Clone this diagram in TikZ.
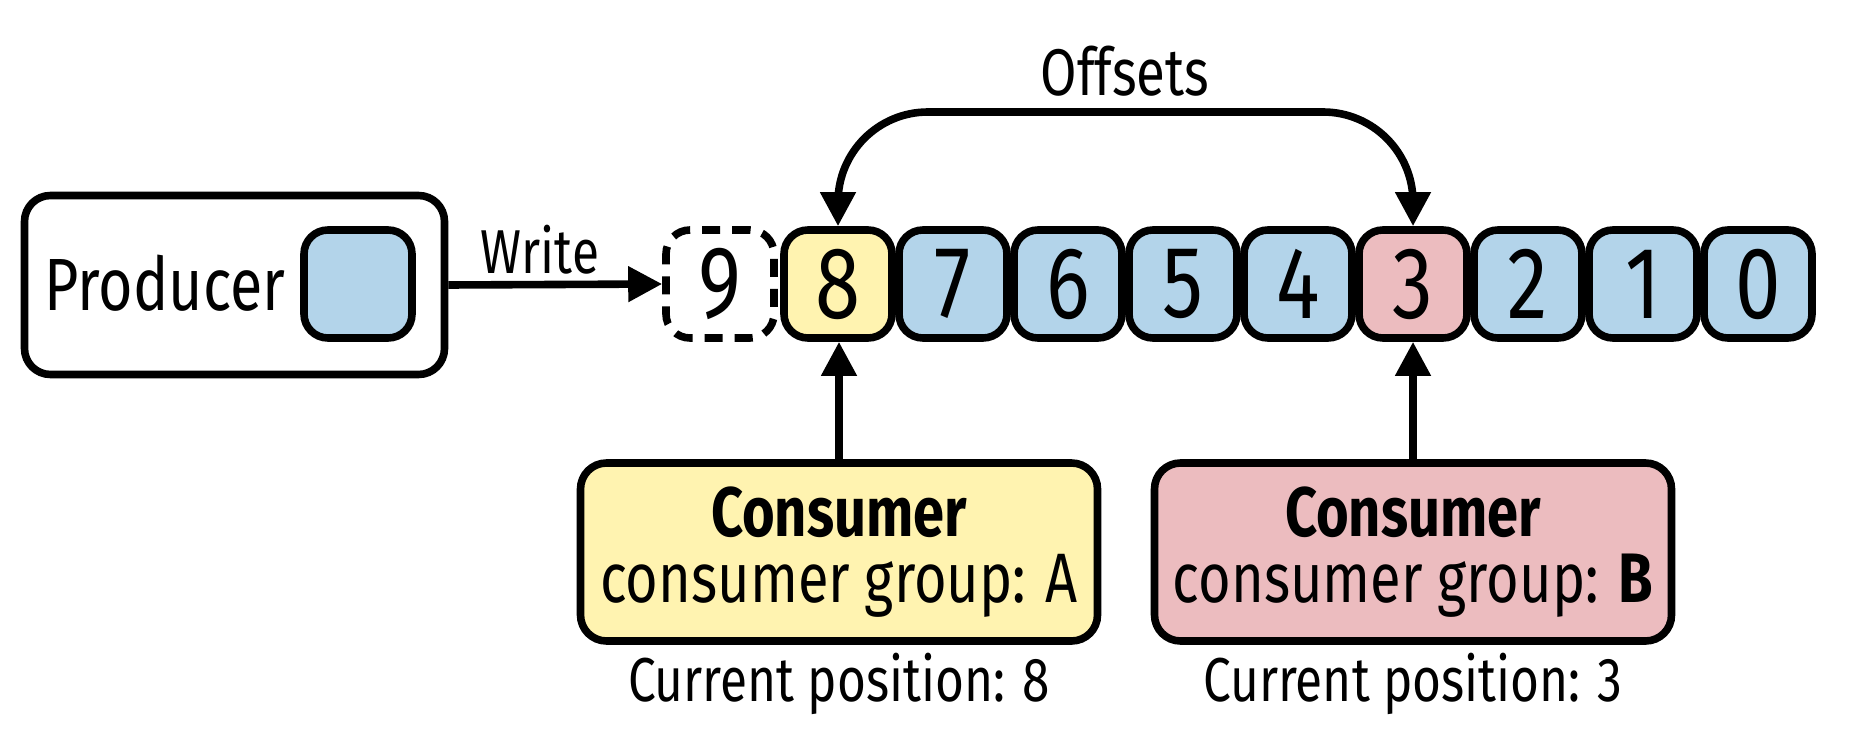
\documentclass[tikz,border=0pt]{standalone}
\usepackage{fontspec}
\setmainfont{Fira Sans}[FakeStretch=0.8]
\usetikzlibrary{arrows.meta}
\definecolor{kblue}{RGB}{179,212,234}
\definecolor{kyellow}{RGB}{255,243,176}
\definecolor{kpink}{RGB}{236,188,191}
\begin{document}
\begin{tikzpicture}[x=0.5pt,y=-0.5pt,
  cell/.style={draw,line width=3.8pt,rounded corners=12pt,minimum width=54pt,minimum height=54pt,inner sep=0pt,font=\fontsize{51}{51}\selectfont},
  bigbox/.style={draw,line width=3.8pt,rounded corners=13pt,inner sep=0pt},
  arr/.style={line width=3.8pt,-{Triangle[length=17pt,width=17pt]}},
  lbl/.style={inner sep=0pt,font=\fontsize{32}{32}\selectfont}]
\useasboundingbox (0,0) rectangle (1850,748);
% producer
\node[bigbox,minimum width=210pt,minimum height=89.5pt] (prod) at (234.5,285) {};
\node[lbl,font=\fontsize{37}{37}\selectfont] (prodtext) at (165,283) {Producer};
\node[cell,fill=kblue] (prodmsg) at (358,284) {};
% log cells
\node[cell,dash pattern=on 9pt off 6pt] (b9) at (720,284) {9};
\node[cell,fill=kyellow] (b8) at (838,284) {8};
\foreach \k in {7,6,5,4,2,1,0}{
  \node[cell,fill=kblue] (b\k) at ({1758-115*\k},284) {\k};
}
\node[cell,fill=kpink] (b3) at (1413,284) {3};
% write arrow
\draw[arr] (prod.east) -- (b9.west);
\node[lbl,font=\fontsize{31}{31}\selectfont] (write) at (540,250) {Write};
% offsets
\draw[line width=3.8pt,{Triangle[length=17pt,width=17pt]}-{Triangle[length=17pt,width=17pt]},rounded corners=45pt]
  (b8.north) -- (b8.north |- 0,112) -- (b3.north |- 0,112) -- (b3.north);
\node[lbl,font=\fontsize{33}{33}\selectfont] (offsets) at (1125,71) {Offsets};
% consumers
\node[bigbox,fill=kyellow,minimum width=258.5pt,minimum height=89pt,align=center,font=\fontsize{35}{33}\selectfont] (ca) at (839,552)
  {\textbf{Consumer}\\consumer group: A};
\node[bigbox,fill=kpink,minimum width=258.5pt,minimum height=89pt,align=center,font=\fontsize{35}{33}\selectfont] (cb) at (1413,552)
  {\textbf{Consumer}\\consumer group: \textbf{B}};
\draw[arr] (ca.north) -- (ca.north |- b8.south);
\draw[arr] (cb.north) -- (cb.north |- b3.south);
\node[lbl,font=\fontsize{31}{31}\selectfont] (posa) at (839,684) {Current position: 8};
\node[lbl,font=\fontsize{31}{31}\selectfont] (posb) at (1413,684) {Current position: 3};
\end{tikzpicture}
\end{document}
